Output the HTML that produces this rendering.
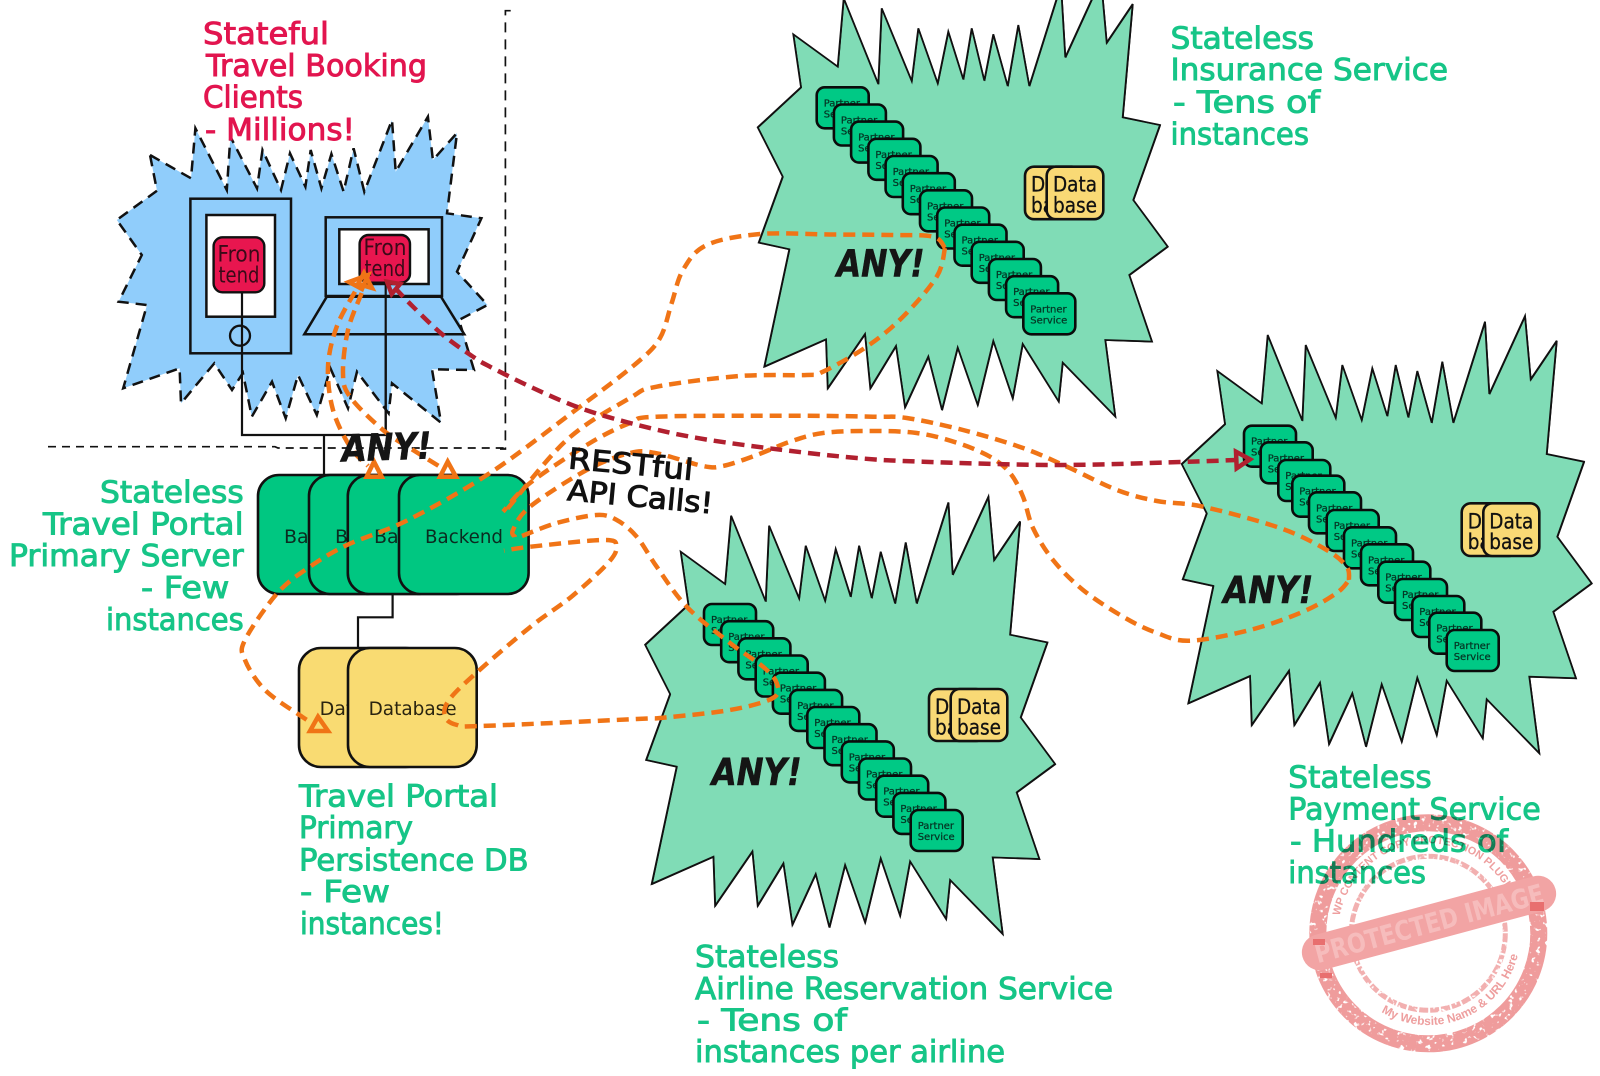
<!DOCTYPE html>
<html><head><meta charset="utf-8">
<style>
html,body{margin:0;padding:0;background:#fff;width:1600px;height:1076px;overflow:hidden}
svg{display:block}
text{font-family:"DejaVu Sans","Liberation Sans",sans-serif}
.g{fill:#16c587;stroke:#16c587;stroke-width:.9;font-size:30px}
.r{fill:#e2154f;stroke:#e2154f;stroke-width:.9;font-size:30px}
.any{font-weight:bold;font-style:italic;font-size:37px;fill:#151515;stroke:#151515;stroke-width:.6}
.rest{font-size:29px;fill:#111;stroke:#111;stroke-width:1}
.c{fill:#80dcb6;stroke:#111;stroke-width:1.8;stroke-linejoin:miter}
.c2{fill:none;stroke:#111;stroke-width:.7}
.p{fill:#00c985;stroke:#0b0b0b;stroke-width:2.6}
.pt{font-size:10px;fill:#053524;stroke:#053524;stroke-width:.25}
.d{fill:#f9d975;stroke:#111;stroke-width:2.6}
.dt{font-size:21px;fill:#111;text-anchor:middle;stroke:#111;stroke-width:.3}
.b{fill:#00c781;stroke:#111;stroke-width:2.6}
.bt{font-size:19px;fill:#0b2b20}
.y{fill:#f9db72;stroke:#111;stroke-width:2.6}
.yt{font-size:19px;fill:#2a2410}
.f{fill:#e8164f;stroke:#111;stroke-width:2.4}
.ft{font-size:22px;fill:#3a0a18;text-anchor:middle}
.ln{fill:none;stroke:#111;stroke-width:2.2}
.o{fill:none;stroke:#f07416;stroke-width:4.5;stroke-dasharray:12 7;stroke-linejoin:round}
.oa{fill:none;stroke:#f07416;stroke-width:4.5;stroke-linejoin:miter}
.rd{fill:none;stroke:#b1202f;stroke-width:4.5;stroke-dasharray:12 7;stroke-linejoin:round}
.ra{fill:none;stroke:#b1202f;stroke-width:4.5}
</style></head><body>
<svg xmlns="http://www.w3.org/2000/svg" width="1600" height="1076" viewBox="0 0 1600 1076">
<defs>
<polygon id="cl" points="1217.3,371 1261.7,403.3 1267.7,335 1302.3,420.7 1305.7,345 1335.7,417.7 1342.3,365 1361.7,420 1372.3,368.3 1387.3,416 1395.7,365 1408.3,417.3 1417.3,371 1431.7,422.7 1442.3,361.7 1453.3,422.7 1485,321.7 1489.3,394 1525,316 1530.7,379.3 1556.7,340.7 1546.7,454 1584,461.7 1557.3,536.7 1591.7,583.3 1553.3,611.7 1576,678.3 1529.3,676.7 1539.3,753.3 1486.7,699.3 1482.7,738.3 1446.7,680.7 1436.7,735 1417.3,677.7 1401.7,741.7 1381.7,684.3 1366,746.7 1352.3,693.3 1329,744 1320,682.7 1294.3,725 1289,670.7 1251.7,725 1250,676 1188.3,703.3 1213.3,586 1182.7,579.3 1206.7,513.3 1181.7,464 1225,424"/>
<filter id="grit" x="-5%" y="-5%" width="110%" height="110%">
<feTurbulence type="fractalNoise" baseFrequency="0.22" numOctaves="2" seed="4" result="n"/>
<feColorMatrix in="n" type="matrix" values="0 0 0 0 0  0 0 0 0 0  0 0 0 0 0  0 0 0 -9 6.5" result="m"/>
<feComposite in="SourceGraphic" in2="m" operator="in"/>
</filter>
<path id="arcTop" d="M1339.7 915.8 A90 90 0 0 1 1508 892"/>
<path id="arcBot" d="M1381.3 1012 A92 92 0 0 0 1519.8 945"/>
</defs>
<rect width="1600" height="1076" fill="#fff"/>

<!-- service clouds -->
<use href="#cl" class="c" transform="translate(-424,-336.7)"/>
<use href="#cl" class="c2" transform="translate(-423.4,-336.2)"/>
<use href="#cl" class="c" transform="translate(-536.6,180.7)"/>
<use href="#cl" class="c2" transform="translate(-536,181.2)"/>
<use href="#cl" class="c"/>
<use href="#cl" class="c2" transform="translate(.6,.5)"/>

<!-- Insurance partners -->
<g><g transform="translate(816.7,87.3)"><rect class="p" width="52" height="41" rx="8"/><text class="pt" x="7" y="19">Partner</text><text class="pt" x="7" y="30">Service</text></g>
<g transform="translate(833.9,104.5)"><rect class="p" width="52" height="41" rx="8"/><text class="pt" x="7" y="19">Partner</text><text class="pt" x="7" y="30">Service</text></g>
<g transform="translate(851.1,121.6)"><rect class="p" width="52" height="41" rx="8"/><text class="pt" x="7" y="19">Partner</text><text class="pt" x="7" y="30">Service</text></g>
<g transform="translate(868.4,138.8)"><rect class="p" width="52" height="41" rx="8"/><text class="pt" x="7" y="19">Partner</text><text class="pt" x="7" y="30">Service</text></g>
<g transform="translate(885.6,156)"><rect class="p" width="52" height="41" rx="8"/><text class="pt" x="7" y="19">Partner</text><text class="pt" x="7" y="30">Service</text></g>
<g transform="translate(902.8,173.2)"><rect class="p" width="52" height="41" rx="8"/><text class="pt" x="7" y="19">Partner</text><text class="pt" x="7" y="30">Service</text></g>
<g transform="translate(920,190.3)"><rect class="p" width="52" height="41" rx="8"/><text class="pt" x="7" y="19">Partner</text><text class="pt" x="7" y="30">Service</text></g>
<g transform="translate(937.2,207.5)"><rect class="p" width="52" height="41" rx="8"/><text class="pt" x="7" y="19">Partner</text><text class="pt" x="7" y="30">Service</text></g>
<g transform="translate(954.5,224.7)"><rect class="p" width="52" height="41" rx="8"/><text class="pt" x="7" y="19">Partner</text><text class="pt" x="7" y="30">Service</text></g>
<g transform="translate(971.7,241.8)"><rect class="p" width="52" height="41" rx="8"/><text class="pt" x="7" y="19">Partner</text><text class="pt" x="7" y="30">Service</text></g>
<g transform="translate(988.9,259)"><rect class="p" width="52" height="41" rx="8"/><text class="pt" x="7" y="19">Partner</text><text class="pt" x="7" y="30">Service</text></g>
<g transform="translate(1006.1,276.2)"><rect class="p" width="52" height="41" rx="8"/><text class="pt" x="7" y="19">Partner</text><text class="pt" x="7" y="30">Service</text></g>
<g transform="translate(1023.3,293.3)"><rect class="p" width="52" height="41" rx="8"/><text class="pt" x="7" y="19">Partner</text><text class="pt" x="7" y="30">Service</text></g></g>

<!-- Airline partners -->
<g><g transform="translate(704,604)"><rect class="p" width="52" height="41" rx="8"/><text class="pt" x="7" y="19">Partner</text><text class="pt" x="7" y="30">Service</text></g>
<g transform="translate(721.2,621.2)"><rect class="p" width="52" height="41" rx="8"/><text class="pt" x="7" y="19">Partner</text><text class="pt" x="7" y="30">Service</text></g>
<g transform="translate(738.4,638.3)"><rect class="p" width="52" height="41" rx="8"/><text class="pt" x="7" y="19">Partner</text><text class="pt" x="7" y="30">Service</text></g>
<g transform="translate(755.7,655.5)"><rect class="p" width="52" height="41" rx="8"/><text class="pt" x="7" y="19">Partner</text><text class="pt" x="7" y="30">Service</text></g>
<g transform="translate(772.9,672.7)"><rect class="p" width="52" height="41" rx="8"/><text class="pt" x="7" y="19">Partner</text><text class="pt" x="7" y="30">Service</text></g>
<g transform="translate(790.1,689.9)"><rect class="p" width="52" height="41" rx="8"/><text class="pt" x="7" y="19">Partner</text><text class="pt" x="7" y="30">Service</text></g>
<g transform="translate(807.3,707)"><rect class="p" width="52" height="41" rx="8"/><text class="pt" x="7" y="19">Partner</text><text class="pt" x="7" y="30">Service</text></g>
<g transform="translate(824.5,724.2)"><rect class="p" width="52" height="41" rx="8"/><text class="pt" x="7" y="19">Partner</text><text class="pt" x="7" y="30">Service</text></g>
<g transform="translate(841.8,741.4)"><rect class="p" width="52" height="41" rx="8"/><text class="pt" x="7" y="19">Partner</text><text class="pt" x="7" y="30">Service</text></g>
<g transform="translate(859,758.5)"><rect class="p" width="52" height="41" rx="8"/><text class="pt" x="7" y="19">Partner</text><text class="pt" x="7" y="30">Service</text></g>
<g transform="translate(876.2,775.7)"><rect class="p" width="52" height="41" rx="8"/><text class="pt" x="7" y="19">Partner</text><text class="pt" x="7" y="30">Service</text></g>
<g transform="translate(893.4,792.9)"><rect class="p" width="52" height="41" rx="8"/><text class="pt" x="7" y="19">Partner</text><text class="pt" x="7" y="30">Service</text></g>
<g transform="translate(910.7,810)"><rect class="p" width="52" height="41" rx="8"/><text class="pt" x="7" y="19">Partner</text><text class="pt" x="7" y="30">Service</text></g></g>

<!-- Payment partners -->
<g><g transform="translate(1244,425.7)"><rect class="p" width="52" height="41" rx="8"/><text class="pt" x="7" y="19">Partner</text><text class="pt" x="7" y="30">Service</text></g>
<g transform="translate(1260.7,442.3)"><rect class="p" width="52" height="41" rx="8"/><text class="pt" x="7" y="19">Partner</text><text class="pt" x="7" y="30">Service</text></g>
<g transform="translate(1278.3,460)"><rect class="p" width="52" height="41" rx="8"/><text class="pt" x="7" y="19">Partner</text><text class="pt" x="7" y="30">Service</text></g>
<g transform="translate(1292.3,475.7)"><rect class="p" width="52" height="41" rx="8"/><text class="pt" x="7" y="19">Partner</text><text class="pt" x="7" y="30">Service</text></g>
<g transform="translate(1309,492.3)"><rect class="p" width="52" height="41" rx="8"/><text class="pt" x="7" y="19">Partner</text><text class="pt" x="7" y="30">Service</text></g>
<g transform="translate(1326.7,510)"><rect class="p" width="52" height="41" rx="8"/><text class="pt" x="7" y="19">Partner</text><text class="pt" x="7" y="30">Service</text></g>
<g transform="translate(1344,527.3)"><rect class="p" width="52" height="41" rx="8"/><text class="pt" x="7" y="19">Partner</text><text class="pt" x="7" y="30">Service</text></g>
<g transform="translate(1361,544.3)"><rect class="p" width="52" height="41" rx="8"/><text class="pt" x="7" y="19">Partner</text><text class="pt" x="7" y="30">Service</text></g>
<g transform="translate(1378.3,561.7)"><rect class="p" width="52" height="41" rx="8"/><text class="pt" x="7" y="19">Partner</text><text class="pt" x="7" y="30">Service</text></g>
<g transform="translate(1395,579)"><rect class="p" width="52" height="41" rx="8"/><text class="pt" x="7" y="19">Partner</text><text class="pt" x="7" y="30">Service</text></g>
<g transform="translate(1412.3,596)"><rect class="p" width="52" height="41" rx="8"/><text class="pt" x="7" y="19">Partner</text><text class="pt" x="7" y="30">Service</text></g>
<g transform="translate(1429.3,612.7)"><rect class="p" width="52" height="41" rx="8"/><text class="pt" x="7" y="19">Partner</text><text class="pt" x="7" y="30">Service</text></g>
<g transform="translate(1446.7,630)"><rect class="p" width="52" height="41" rx="8"/><text class="pt" x="7" y="19">Partner</text><text class="pt" x="7" y="30">Service</text></g></g>

<!-- mini databases -->
<rect class="d" x="1025" y="166.7" width="56" height="52.5" rx="9"/><text class="dt" x="1053" y="191.7" textLength="44" lengthAdjust="spacingAndGlyphs">Data</text><text class="dt" x="1053" y="212.3" textLength="44" lengthAdjust="spacingAndGlyphs">base</text>
<rect class="d" x="1046.7" y="166.7" width="56.6" height="52.5" rx="9"/><text class="dt" x="1075" y="191.7" textLength="44" lengthAdjust="spacingAndGlyphs">Data</text><text class="dt" x="1075" y="212.3" textLength="44" lengthAdjust="spacingAndGlyphs">base</text>
<rect class="d" x="929" y="689" width="56" height="52" rx="9"/><text class="dt" x="957" y="714" textLength="44" lengthAdjust="spacingAndGlyphs">Data</text><text class="dt" x="957" y="734.6" textLength="44" lengthAdjust="spacingAndGlyphs">base</text>
<rect class="d" x="950.7" y="689" width="56.6" height="52" rx="9"/><text class="dt" x="979" y="714" textLength="44" lengthAdjust="spacingAndGlyphs">Data</text><text class="dt" x="979" y="734.6" textLength="44" lengthAdjust="spacingAndGlyphs">base</text>
<rect class="d" x="1461.7" y="503.3" width="56" height="52.7" rx="9"/><text class="dt" x="1489.7" y="528.3" textLength="44" lengthAdjust="spacingAndGlyphs">Data</text><text class="dt" x="1489.7" y="549" textLength="44" lengthAdjust="spacingAndGlyphs">base</text>
<rect class="d" x="1483.3" y="503.3" width="56" height="52.7" rx="9"/><text class="dt" x="1511.3" y="528.3" textLength="44" lengthAdjust="spacingAndGlyphs">Data</text><text class="dt" x="1511.3" y="549" textLength="44" lengthAdjust="spacingAndGlyphs">base</text>

<!-- boundary dashes -->
<path d="M510.7 10.7H505.4V449H500" fill="none" stroke="#111" stroke-width="1.7" stroke-dasharray="10 7"/>
<path d="M48 446.7H275L278 448H505" fill="none" stroke="#111" stroke-width="1.7" stroke-dasharray="8 6"/>

<!-- client cloud -->
<polygon points="150,155 191,178.3 195.4,128.3 226.8,190 230.4,136.7 257,188.3 262.5,150 281,190 290,153.3 305.4,186.7 310.7,150 321.4,188.3 331.4,154 343.6,191.7 353.6,148.3 364.3,191.7 392,120 395.7,171.7 427.9,116.7 432.9,160 457,133 447,213.3 481.4,218.3 457,271.7 487.5,305 459,320 474,370 432,369.3 441,422.7 392,383.3 388.6,413.3 357,371.7 348,408.3 330.4,368.3 316.8,415 298,375 285.7,418.3 272,381.7 251.8,416.7 242.9,373 232,390 214.3,363.3 181,403.3 179.6,368.3 123.2,388.3 147,305 118.6,301.7 141.8,255 116.8,220 157,190.7" fill="#90cdfb" stroke="#111" stroke-width="2.5" stroke-dasharray="11 7"/>

<!-- connectors -->
<path class="ln" d="M242 292V435H385.7V282M324 435V476"/>
<path class="ln" d="M392.6 594V617.3H358V648"/>

<!-- tablet -->
<rect x="190.4" y="198.7" width="100.6" height="154.6" fill="#90cdfb" stroke="#111" stroke-width="2.5"/>
<rect x="206.4" y="215" width="68.6" height="101.7" fill="#fff" stroke="#111" stroke-width="2.5"/>
<rect class="f" x="213.6" y="237.3" width="50.7" height="55" rx="9"/>
<text class="ft" x="239" y="261.7" textLength="43" lengthAdjust="spacingAndGlyphs">Fron</text><text class="ft" x="239" y="282.7" textLength="41" lengthAdjust="spacingAndGlyphs">tend</text>
<path class="ln" d="M242 292V353"/>
<circle cx="240" cy="335.7" r="10" fill="none" stroke="#111" stroke-width="2.3"/>

<!-- laptop -->
<rect x="325.7" y="217.3" width="116.3" height="78.7" fill="#90cdfb" stroke="#111" stroke-width="2.5"/>
<rect x="339.3" y="229.3" width="89.3" height="54.7" fill="#fff" stroke="#111" stroke-width="2.5"/>
<rect class="f" x="359.6" y="235" width="50.4" height="47.7" rx="9"/>
<text class="ft" x="385" y="255" textLength="43" lengthAdjust="spacingAndGlyphs">Fron</text><text class="ft" x="385" y="276" textLength="41" lengthAdjust="spacingAndGlyphs">tend</text>
<polygon points="326.8,296.7 441,296.7 464.3,334.3 304.3,334.3" fill="#90cdfb" stroke="#111" stroke-width="2.5"/>
<path class="ln" d="M385.7 282V435"/>

<!-- backend stack -->
<rect class="b" x="258" y="475" width="130" height="119" rx="21"/><text class="bt" x="284" y="543">Backend</text>
<rect class="b" x="309" y="475" width="130" height="119" rx="21"/><text class="bt" x="335" y="543">Backend</text>
<rect class="b" x="347.8" y="475" width="130" height="119" rx="21"/><text class="bt" x="374" y="543">Backend</text>
<rect class="b" x="399" y="475" width="129.6" height="119" rx="21"/><text class="bt" x="425" y="543" textLength="78" lengthAdjust="spacingAndGlyphs">Backend</text>

<!-- DB stack -->
<rect class="y" x="299" y="648" width="128.6" height="119" rx="22"/><text class="yt" x="319.6" y="715">Database</text>
<rect class="y" x="348" y="648" width="128.7" height="119" rx="22"/><text class="yt" x="368.6" y="715" textLength="88" lengthAdjust="spacingAndGlyphs">Database</text>

<!-- ANY labels -->
<text class="any" x="836.7" y="276.7" textLength="88" lengthAdjust="spacingAndGlyphs">ANY!</text>
<text class="any" x="1223.3" y="603" textLength="90" lengthAdjust="spacingAndGlyphs">ANY!</text>
<text class="any" x="711.7" y="785" textLength="90" lengthAdjust="spacingAndGlyphs">ANY!</text>

<!-- orange connectors -->
<path class="o s" d="M945 248L933 236.7L890 235L830 234.5L760 234L706.7 245L683 270L671.7 303L660 338L636.7 363L580 406.7L490 473L408 520L347 545L310 566.7L277.5 593L245 640L245 660L265 690L302 716.7L314 724"/>
<path class="o s" d="M945 248L936.7 276.7L903 316.7L866.7 346.7L823 371.7L806.7 375L740 376L656.7 386.7L630 398L566.7 440L505 511.7"/>
<path class="o s" d="M515 537L513 530L530 506.7L586.7 470L630 453L656.7 453.3L703 466L723 466L756.7 455L790 441.7L823 433L870 431L916.7 433L956.7 442.7L990 456.7L1010 473L1023 496.7L1033 528L1053 560L1083 590L1123 616.7L1157 633L1190 640.7L1250 630L1303 611.7L1336.7 593L1349 580"/>
<path class="o s" d="M1349 580L1346.7 566.7L1326.7 550L1280 528L1203 506.7L1157 501L1117 490L1067 466.7L1023 448L963 430L906.7 418L873 416.7L790 415.7L656.7 416.7L630 423L590 443L530 483L503 511.7"/>
<path class="o s" d="M522 536L556.7 523L596.7 515L616.7 520L636.7 536.7L656.7 566.7L686.7 606.7L730 643L763 666.7L776.7 683L773 698L730 710L663 717.7L636.7 719L481.6 726L457 725L445 716.7L449 700L477.6 671.7L530.6 626.7L571.4 596.7L608 563L616.3 546.7L604 540L530.6 546.7L504 550.7"/>
<path class="o s" d="M355 291.7L336.7 326.7L328 366.7L333 410L350 446.7L368 466"/>
<path class="o s" d="M361.7 293L348 330L343 373L350 396.7L383 430L413 450L442 468"/>
<path class="rd s" d="M395 288L413 306.7L443 335L473 356.7L490 366.7L533 388L580 408L630 423L690 436.7L766.7 448L856.7 458L923 461.7L1057 465L1180 462L1236 460"/>
<polygon class="oa" points="318,716.7 310,731 328,731"/>
<polygon class="oa" points="374,461.7 366.7,476.7 381.7,476.7"/>
<polygon class="oa" points="447.7,461.7 440,476.7 456,476.7"/>
<polygon class="oa" points="349,282 368,275 362,289"/>
<polygon class="oa" points="364,273 372,288 358,284"/>
<polygon class="ra" points="387,281.7 400,284 391.7,294"/>
<polygon class="ra" points="1236,451.7 1250,459.3 1236.7,468.3"/>

<!-- top ANY and RESTful -->
<text class="any" x="341.7" y="460" textLength="90" lengthAdjust="spacingAndGlyphs" transform="rotate(-2 386 450)">ANY!</text>
<text class="rest" x="567.7" y="468.3" textLength="125" lengthAdjust="spacingAndGlyphs" transform="rotate(5.4 567.7 468.3)">RESTful</text>
<text class="rest" x="566.7" y="500" textLength="146" lengthAdjust="spacingAndGlyphs" transform="rotate(5.3 566.7 500)">API Calls!</text>

<!-- labels -->
<text class="r" x="203" y="44" textLength="126" lengthAdjust="spacingAndGlyphs">Stateful</text>
<text class="r" x="206" y="76" textLength="221" lengthAdjust="spacingAndGlyphs">Travel Booking</text>
<text class="r" x="203" y="107.7" textLength="100" lengthAdjust="spacingAndGlyphs">Clients</text>
<text class="r" x="205" y="140" textLength="150" lengthAdjust="spacingAndGlyphs">- Millions!</text>

<text class="g" x="100" y="502.7" textLength="143.7" lengthAdjust="spacingAndGlyphs">Stateless</text>
<text class="g" x="43" y="534.7" textLength="200.7" lengthAdjust="spacingAndGlyphs">Travel Portal</text>
<text class="g" x="9" y="566" textLength="234.7" lengthAdjust="spacingAndGlyphs">Primary Server</text>
<text class="g" x="141" y="598" textLength="88.4" lengthAdjust="spacingAndGlyphs">- Few</text>
<text class="g" x="106" y="630" textLength="137.7" lengthAdjust="spacingAndGlyphs">instances</text>

<text class="g" x="299" y="806.7" textLength="199" lengthAdjust="spacingAndGlyphs">Travel Portal</text>
<text class="g" x="299" y="838" textLength="114" lengthAdjust="spacingAndGlyphs">Primary</text>
<text class="g" x="299" y="870.7" textLength="229.6" lengthAdjust="spacingAndGlyphs">Persistence DB</text>
<text class="g" x="300" y="902" textLength="90" lengthAdjust="spacingAndGlyphs">- Few</text>
<text class="g" x="300" y="934" textLength="144" lengthAdjust="spacingAndGlyphs">instances!</text>

<text class="g" x="1170.5" y="48.5" textLength="143.5" lengthAdjust="spacingAndGlyphs">Stateless</text>
<text class="g" x="1170.5" y="80" textLength="277.5" lengthAdjust="spacingAndGlyphs">Insurance Service</text>
<text class="g" x="1173" y="112.5" textLength="147" lengthAdjust="spacingAndGlyphs">- Tens of</text>
<text class="g" x="1170.5" y="144.5" textLength="138.5" lengthAdjust="spacingAndGlyphs">instances</text>

<text class="g" x="1288.3" y="787.7" textLength="143.4" lengthAdjust="spacingAndGlyphs">Stateless</text>
<text class="g" x="1288.3" y="819.3" textLength="252.4" lengthAdjust="spacingAndGlyphs">Payment Service</text>
<text class="g" x="1290" y="851.7" textLength="218" lengthAdjust="spacingAndGlyphs">- Hundreds of</text>
<text class="g" x="1288.3" y="883" textLength="137.7" lengthAdjust="spacingAndGlyphs">instances</text>

<text class="g" x="695" y="967" textLength="144" lengthAdjust="spacingAndGlyphs">Stateless</text>
<text class="g" x="695" y="999" textLength="418" lengthAdjust="spacingAndGlyphs">Airline Reservation Service</text>
<text class="g" x="697" y="1030.6" textLength="150" lengthAdjust="spacingAndGlyphs">- Tens of</text>
<text class="g" x="695" y="1062" textLength="310" lengthAdjust="spacingAndGlyphs">instances per airline</text>

<!-- stamp -->
<g style="mix-blend-mode:multiply">
<g filter="url(#grit)">
<circle cx="1428.3" cy="933.3" r="110.5" fill="none" stroke="#ef9c9c" stroke-width="17"/>
<circle cx="1428.3" cy="933.3" r="77" fill="none" stroke="#f2b0b0" stroke-width="5" stroke-dasharray="9 2"/>
</g>
<text font-size="10.8" font-weight="bold" fill="#ee9f9f" style="font-family:'Liberation Sans',sans-serif"><textPath href="#arcTop">WP CONTENT COPY PROTECTION PLUGIN</textPath></text>
<text font-size="12" font-weight="bold" fill="#ee9f9f" style="font-family:'Liberation Sans',sans-serif"><textPath href="#arcBot">My Website Name &amp; URL Here</textPath></text>
<g transform="rotate(-15 1429 923)">
<rect x="1298" y="905" width="262" height="36" rx="18" fill="#f2a4a4"/>
<text x="1429" y="933" font-size="27" font-weight="bold" fill="#f6bcbc" text-anchor="middle" textLength="236" lengthAdjust="spacingAndGlyphs">PROTECTED IMAGE</text>
</g>
<rect x="1313" y="939" width="12" height="6" fill="#e86f6f"/>
<rect x="1530" y="902" width="14" height="9" fill="#e86f6f"/>
<rect x="1320" y="973" width="12" height="5" fill="#e86f6f"/>
</g>
</svg>
<script>
document.querySelectorAll('path.s').forEach(function(p){
 var m=p.getAttribute('d').match(/-?[\d.]+/g).map(Number),a=[];
 for(var i=0;i<m.length;i+=2)a.push([m[i],m[i+1]]);
 var d='M'+a[0][0]+' '+a[0][1];
 for(i=0;i<a.length-1;i++){
  var p0=a[Math.max(i-1,0)],p1=a[i],p2=a[i+1],p3=a[Math.min(i+2,a.length-1)];
  d+='C'+(p1[0]+(p2[0]-p0[0])/6).toFixed(1)+' '+(p1[1]+(p2[1]-p0[1])/6).toFixed(1)+' '+(p2[0]-(p3[0]-p1[0])/6).toFixed(1)+' '+(p2[1]-(p3[1]-p1[1])/6).toFixed(1)+' '+p2[0]+' '+p2[1];
 }
 p.setAttribute('d',d);
});
</script>
</body></html>
